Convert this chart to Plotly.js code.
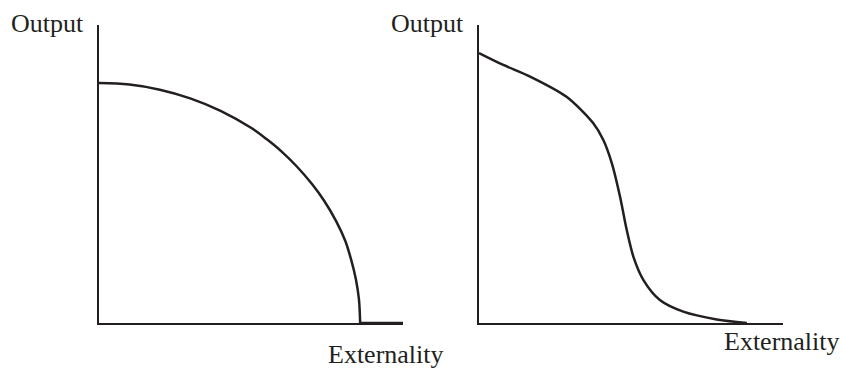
<!DOCTYPE html>
<html>
<head>
<meta charset="utf-8">
<script src="https://cdn.plot.ly/plotly-3.0.1.min.js"></script>
<style>html,body{margin:0;padding:0;background:#fff;}#chart{width:842px;height:368px;}</style>
</head>
<body>
<div id="chart"></div>
<script>
// Left panel: concave (quarter-ellipse-like) frontier
var leftX = [0, 1.0, 2.0, 3.0, 4.0, 5.0, 5.5, 6.0, 6.5, 7.0, 7.4, 7.8, 8.1, 8.3, 8.45, 8.55, 8.59];
var leftY = [8.05, 8.00, 7.83, 7.54, 7.12, 6.55, 6.18, 5.76, 5.26, 4.67, 4.11, 3.42, 2.76, 2.10, 1.47, 0.80, 0];
// ...followed by a flat run along the horizontal axis
var leftFlatX = [8.59, 10];
var leftFlatY = [0, 0];

// Right panel: convex-concave (S-shaped) frontier
var rightX = [0, 0.80, 1.68, 2.88, 3.76, 4.09, 4.37, 4.64, 4.86, 5.08, 5.41, 5.95, 6.72, 7.82, 8.81];
var rightY = [9.06, 8.66, 8.27, 7.59, 6.70, 6.14, 5.36, 4.24, 3.12, 2.22, 1.44, 0.77, 0.38, 0.12, 0];

var yLabel = "Output";
var xLabel = "Externality";

var ink = "#231f20";
var W = 842, H = 368;
function px(x){ return x / W; }
function py(y){ return (H - y) / H; }

var traces = [
  {x: leftX, y: leftY, xaxis: "x", yaxis: "y", mode: "lines",
   line: {color: ink, width: 2.5, shape: "spline", smoothing: 1}, hoverinfo: "skip"},
  {x: leftFlatX, y: leftFlatY, xaxis: "x", yaxis: "y", mode: "lines",
   line: {color: ink, width: 2.5}, hoverinfo: "skip"},
  {x: rightX, y: rightY, xaxis: "x2", yaxis: "y2", mode: "lines",
   line: {color: ink, width: 2.5, shape: "spline", smoothing: 0.8}, hoverinfo: "skip"}
];

var axBase = {showline: true, linecolor: ink, linewidth: 1.6, showgrid: false, zeroline: false,
  showticklabels: false, ticks: "", range: [0, 10], fixedrange: true};
var yDom = [py(323), py(25)];

var fontT = {family: "'Liberation Serif', 'Times New Roman', serif", size: 26, color: ink};

var layout = {
  width: W, height: H,
  margin: {l: 0, r: 0, t: 0, b: 0},
  paper_bgcolor: "#fff", plot_bgcolor: "#fff",
  showlegend: false,
  xaxis: Object.assign({}, axBase, {domain: [px(99), px(403)], anchor: "y"}),
  yaxis: Object.assign({}, axBase, {domain: yDom, anchor: "x"}),
  xaxis2: Object.assign({}, axBase, {domain: [px(479), px(783)], anchor: "y2"}),
  yaxis2: Object.assign({}, axBase, {domain: yDom, anchor: "x2"}),
  annotations: [
    {text: yLabel, xref: "paper", yref: "paper", x: px(9), y: py(23.2), xanchor: "left", yanchor: "middle", showarrow: false, font: fontT},
    {text: yLabel, xref: "paper", yref: "paper", x: px(389), y: py(23.2), xanchor: "left", yanchor: "middle", showarrow: false, font: fontT},
    {text: xLabel, xref: "paper", yref: "paper", x: px(326), y: py(354.2), xanchor: "left", yanchor: "middle", showarrow: false, font: fontT},
    {text: xLabel, xref: "paper", yref: "paper", x: px(722), y: py(341.2), xanchor: "left", yanchor: "middle", showarrow: false, font: fontT}
  ]
};

Plotly.newPlot("chart", traces, layout, {displayModeBar: false, staticPlot: true});
</script>
</body>
</html>
